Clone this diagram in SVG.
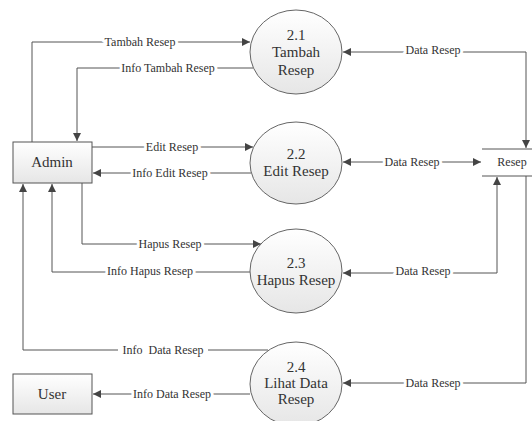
<svg xmlns="http://www.w3.org/2000/svg" width="532" height="421" viewBox="0 0 532 421">
<style>
.ln{fill:none;stroke:#555;stroke-width:1}
text{font-family:"Liberation Serif","Times New Roman","DejaVu Serif",serif}
.lbl{font-size:12px;fill:#333;text-anchor:middle;dominant-baseline:central;stroke:#fff;stroke-width:6;stroke-linejoin:round;paint-order:stroke;white-space:pre}
.nt{font-size:15px;fill:#333;text-anchor:middle}
.proc{fill:url(#g);stroke:#666;stroke-width:1}
.ent{fill:url(#g);stroke:#555;stroke-width:1}
</style>
<defs>
<linearGradient id="g" x1="0" y1="0" x2="0" y2="1">
<stop offset="0" stop-color="#ffffff"/>
<stop offset="1" stop-color="#e6e6e6"/>
</linearGradient>
<marker id="a" viewBox="0 0 10 10" refX="10" refY="5" markerWidth="8" markerHeight="8" markerUnits="userSpaceOnUse" orient="auto-start-reverse">
<path d="M0,0 L10,5 L0,10 z" fill="#444"/>
</marker>
</defs>
<g id="connectors">
<path class="ln" d="M32 142 V42 H250" marker-end="url(#a)"/>
<path class="ln" d="M253 68 H77 V141" marker-end="url(#a)"/>
<path class="ln" d="M92 147 H253" marker-end="url(#a)"/>
<path class="ln" d="M251 173 H93" marker-end="url(#a)"/>
<path class="ln" d="M82 183 V244 H261" marker-end="url(#a)"/>
<path class="ln" d="M250 272 H52 V184" marker-end="url(#a)"/>
<path class="ln" d="M268 350 H23 V184" marker-end="url(#a)"/>
<path class="ln" d="M250 394 H93" marker-end="url(#a)"/>
<path class="ln" d="M526 148 V52 H343" marker-start="url(#a)" marker-end="url(#a)"/>
<path class="ln" d="M343 162 H481" marker-start="url(#a)" marker-end="url(#a)"/>
<path class="ln" d="M497 177 V273 H343" marker-start="url(#a)" marker-end="url(#a)"/>
<path class="ln" d="M526 176 V383 H343" marker-end="url(#a)"/>
<text class="lbl" x="140" y="42">Tambah Resep</text>
<text class="lbl" x="168" y="68">Info Tambah Resep</text>
<text class="lbl" x="172" y="147">Edit Resep</text>
<text class="lbl" x="170" y="173">Info Edit Resep</text>
<text class="lbl" x="170" y="244">Hapus Resep</text>
<text class="lbl" x="150" y="271">Info Hapus Resep</text>
<rect x="118" y="344" width="90" height="12" fill="#fff"/>
<text class="lbl" x="163" y="350" xml:space="preserve">Info  Data Resep</text>
<text class="lbl" x="172" y="394">Info Data Resep</text>
<text class="lbl" x="433" y="50">Data Resep</text>
<text class="lbl" x="412" y="162">Data Resep</text>
<text class="lbl" x="423" y="271">Data Resep</text>
<text class="lbl" x="433" y="383">Data Resep</text>
</g>
<g id="admin">
<rect class="ent" x="13" y="142" width="79" height="41"/>
<text class="nt" x="52" y="167">Admin</text>
</g>
<g id="user">
<rect class="ent" x="13" y="374" width="79" height="40"/>
<text class="nt" x="52" y="399">User</text>
</g>
<g id="p21">
<ellipse class="proc" cx="296" cy="52" rx="46" ry="42"/>
<text class="nt" x="296" y="40">2.1</text>
<text class="nt" x="296" y="57">Tambah</text>
<text class="nt" x="296" y="75">Resep</text>
</g>
<g id="p22">
<ellipse class="proc" cx="296" cy="163" rx="46" ry="41"/>
<text class="nt" x="296" y="159">2.2</text>
<text class="nt" x="296" y="176">Edit Resep</text>
</g>
<g id="p23">
<ellipse class="proc" cx="296" cy="271" rx="46" ry="42"/>
<text class="nt" x="296" y="268">2.3</text>
<text class="nt" x="296" y="285">Hapus Resep</text>
</g>
<g id="p24">
<ellipse class="proc" cx="296" cy="384" rx="46" ry="42"/>
<text class="nt" x="296" y="372">2.4</text>
<text class="nt" x="296" y="388">Lihat Data</text>
<text class="nt" x="296" y="404">Resep</text>
</g>
<g id="resep">
<path class="ln" d="M482 149 H532 M482 176 H532"/>
<text class="nt" x="512" y="166" style="font-size:12px">Resep</text>
</g>
</svg>
